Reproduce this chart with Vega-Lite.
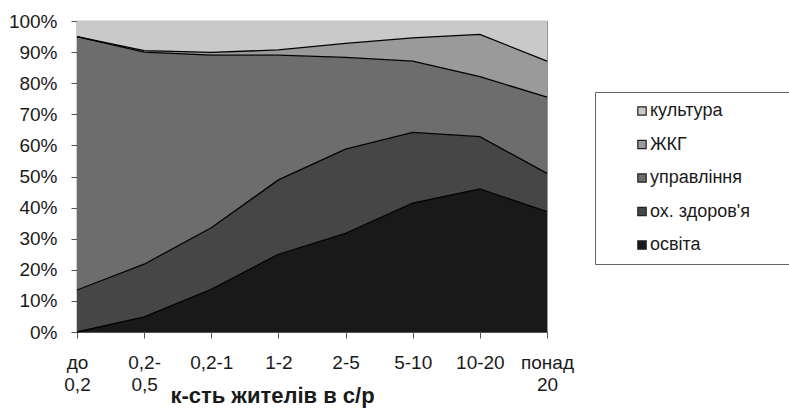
{
  "$schema": "https://vega.github.io/schema/vega-lite/v6.json",
  "autosize": {"type": "none"},
  "width": 470,
  "height": 311,
  "padding": {"left": 77, "top": 21, "right": 242, "bottom": 78},
  "background": "white",
  "config": {
    "view": {"stroke": "#8a8a8a", "strokeWidth": 1.2},
    "font": "Liberation Sans"
  },
  "data": {
    "values": [
      {"cat": "до|0,2", "s": "освіта", "k": 1, "v": 0},
      {"cat": "до|0,2", "s": "ох. здоров'я", "k": 2, "v": 13.5},
      {"cat": "до|0,2", "s": "управління", "k": 3, "v": 81.5},
      {"cat": "до|0,2", "s": "ЖКГ", "k": 4, "v": 0},
      {"cat": "до|0,2", "s": "культура", "k": 5, "v": 5},
      {"cat": "0,2-|0,5", "s": "освіта", "k": 1, "v": 4.9},
      {"cat": "0,2-|0,5", "s": "ох. здоров'я", "k": 2, "v": 16.9},
      {"cat": "0,2-|0,5", "s": "управління", "k": 3, "v": 68.2},
      {"cat": "0,2-|0,5", "s": "ЖКГ", "k": 4, "v": 0.5},
      {"cat": "0,2-|0,5", "s": "культура", "k": 5, "v": 9.5},
      {"cat": "0,2-1", "s": "освіта", "k": 1, "v": 13.7},
      {"cat": "0,2-1", "s": "ох. здоров'я", "k": 2, "v": 19.8},
      {"cat": "0,2-1", "s": "управління", "k": 3, "v": 55.5},
      {"cat": "0,2-1", "s": "ЖКГ", "k": 4, "v": 0.9},
      {"cat": "0,2-1", "s": "культура", "k": 5, "v": 10.1},
      {"cat": "1-2", "s": "освіта", "k": 1, "v": 25},
      {"cat": "1-2", "s": "ох. здоров'я", "k": 2, "v": 23.9},
      {"cat": "1-2", "s": "управління", "k": 3, "v": 40.1},
      {"cat": "1-2", "s": "ЖКГ", "k": 4, "v": 1.7},
      {"cat": "1-2", "s": "культура", "k": 5, "v": 9.3},
      {"cat": "2-5", "s": "освіта", "k": 1, "v": 31.7},
      {"cat": "2-5", "s": "ох. здоров'я", "k": 2, "v": 27.1},
      {"cat": "2-5", "s": "управління", "k": 3, "v": 29.5},
      {"cat": "2-5", "s": "ЖКГ", "k": 4, "v": 4.5},
      {"cat": "2-5", "s": "культура", "k": 5, "v": 7.2},
      {"cat": "5-10", "s": "освіта", "k": 1, "v": 41.4},
      {"cat": "5-10", "s": "ох. здоров'я", "k": 2, "v": 22.8},
      {"cat": "5-10", "s": "управління", "k": 3, "v": 22.9},
      {"cat": "5-10", "s": "ЖКГ", "k": 4, "v": 7.5},
      {"cat": "5-10", "s": "культура", "k": 5, "v": 5.4},
      {"cat": "10-20", "s": "освіта", "k": 1, "v": 46},
      {"cat": "10-20", "s": "ох. здоров'я", "k": 2, "v": 16.8},
      {"cat": "10-20", "s": "управління", "k": 3, "v": 19.3},
      {"cat": "10-20", "s": "ЖКГ", "k": 4, "v": 13.6},
      {"cat": "10-20", "s": "культура", "k": 5, "v": 4.3},
      {"cat": "понад|20", "s": "освіта", "k": 1, "v": 38.7},
      {"cat": "понад|20", "s": "ох. здоров'я", "k": 2, "v": 12.3},
      {"cat": "понад|20", "s": "управління", "k": 3, "v": 24.5},
      {"cat": "понад|20", "s": "ЖКГ", "k": 4, "v": 11.6},
      {"cat": "понад|20", "s": "культура", "k": 5, "v": 12.9}
    ]
  },
  "transform": [
    {"stack": "v", "groupby": ["cat"], "sort": [{"field": "k", "order": "ascending"}], "as": ["y0", "y1"]}
  ],
  "encoding": {
    "x": {
      "field": "cat",
      "type": "nominal",
      "sort": ["до|0,2", "0,2-|0,5", "0,2-1", "1-2", "2-5", "5-10", "10-20", "понад|20"],
      "scale": {"type": "point", "padding": 0},
      "axis": {
        "title": "к-сть жителів в с/р",
        "labelExpr": "split(datum.label, '|')",
        "labelAngle": 0,
        "labelFont": "Liberation Sans",
        "labelFontSize": 19,
        "labelColor": "#1a1a1a",
        "labelLineHeight": 22,
        "labelPadding": 15,
        "labelBaseline": "top",
        "labelOverlap": false,
        "tickSize": 6,
        "tickColor": "#555",
        "domainColor": "#555",
        "domainWidth": 1.2,
        "titleFont": "Liberation Sans",
        "titleFontSize": 22,
        "titleFontWeight": "bold",
        "titleColor": "#1a1a1a",
        "titleX": 195,
        "titleY": 70,
        "titleAlign": "center",
        "titleBaseline": "alphabetic"
      }
    },
    "y": {
      "field": "y1",
      "type": "quantitative",
      "scale": {"domain": [0, 100], "nice": false},
      "axis": {
        "title": null,
        "values": [0, 10, 20, 30, 40, 50, 60, 70, 80, 90, 100],
        "tickCount": 11,
        "labelExpr": "datum.value + '%'",
        "labelFont": "Liberation Sans",
        "labelFontSize": 19,
        "labelColor": "#1a1a1a",
        "labelPadding": 14,
        "labelOverlap": false,
        "tickSize": 6,
        "tickColor": "#555",
        "domainColor": "#555",
        "domainWidth": 1.2,
        "grid": false
      }
    }
  },
  "layer": [
    {
      "mark": {"type": "area", "interpolate": "linear"},
      "encoding": {
        "y2": {"field": "y0"},
        "color": {
          "field": "s",
          "type": "nominal",
          "scale": {
            "domain": ["культура", "ЖКГ", "управління", "ох. здоров'я", "освіта"],
            "range": ["#c9c9c9", "#9a9a9a", "#6d6d6d", "#464646", "#191919"]
          },
          "legend": {
            "title": "\u2800\u2800\u2800",
            "titleOrient": "right",
            "titleFontSize": 16,
            "titlePadding": 0,
            "orient": "none",
            "legendX": 518,
            "legendY": 71,
            "padding": 10,
            "symbolOffset": 28,
            "symbolType": "square",
            "symbolSize": 70,
            "symbolStrokeColor": "#222",
            "symbolStrokeWidth": 1.2,
            "labelFont": "Liberation Sans",
            "labelFontSize": 18,
            "labelColor": "#1a1a1a",
            "labelOffset": -1,
            "rowPadding": 15.5,
            "strokeColor": "#666",
            "fillColor": "white"
          }
        }
      }
    },
    {
      "transform": [{"filter": "datum.s != 'культура'"}],
      "mark": {"type": "line", "color": "#000", "strokeWidth": 1.3, "interpolate": "linear"},
      "encoding": {
        "detail": {"field": "s", "type": "nominal"}
      }
    }
  ]
}
